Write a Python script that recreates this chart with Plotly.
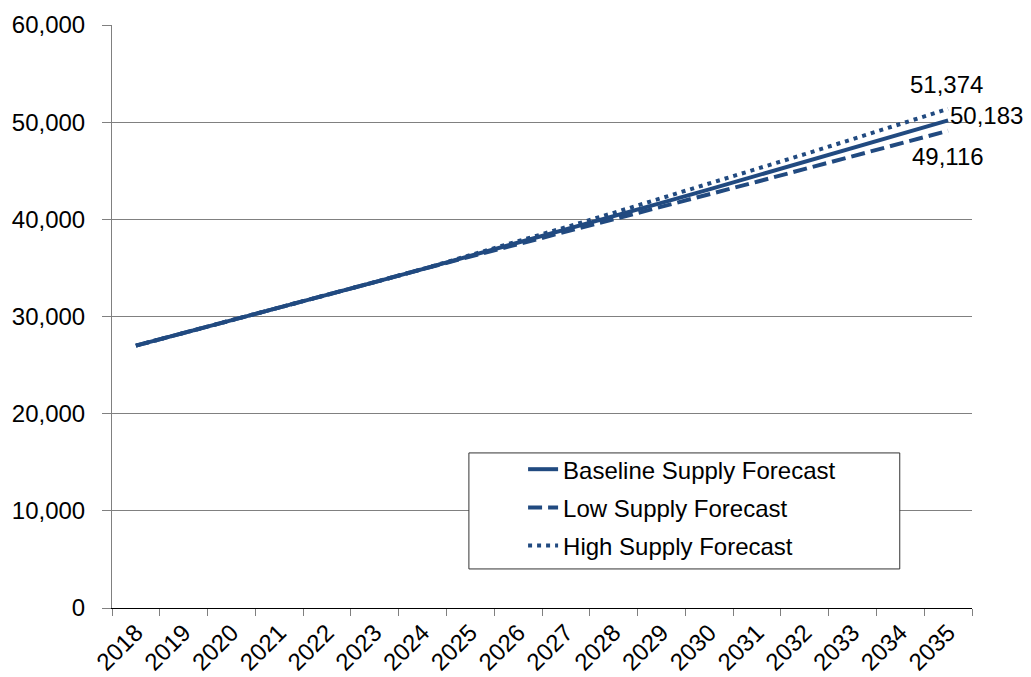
import plotly.graph_objects as go

years = [str(y) for y in range(2018, 2036)]
baseline = [27000, 28290, 29590, 30900, 32220, 33540, 34880, 36230, 37580, 38940,
            40320, 41700, 43090, 44490, 45900, 47320, 48750, 50183]
low = [27000, 28290, 29590, 30900, 32220, 33540, 34880, 36180, 37450, 38720,
       40010, 41290, 42580, 43870, 45170, 46480, 47800, 49116]
high = [27000, 28290, 29590, 30900, 32220, 33540, 34880, 36290, 37730, 39190,
        40670, 42160, 43660, 45180, 46710, 48250, 49810, 51374]
y_ticks = [0, 10000, 20000, 30000, 40000, 50000, 60000]

COLOR = "#214A80"
FONT = "Liberation Sans, Arial, sans-serif"
FS = 24
last = len(years) - 1

fig = go.Figure()
fig.add_trace(go.Scatter(
    x=years, y=baseline, mode="lines", name="Baseline Supply Forecast",
    line=dict(color=COLOR, width=4, dash="solid"), legendgroup="a"))
fig.add_trace(go.Scatter(
    x=years, y=low, mode="lines", name="Low Supply Forecast",
    line=dict(color=COLOR, width=4, dash="14px,6px"), legendgroup="b"))
fig.add_trace(go.Scatter(
    x=years, y=high, mode="lines", name="High Supply Forecast",
    line=dict(color=COLOR, width=4, dash="4px,5px"), legendgroup="c"))

# end-point value labels
fig.add_annotation(x=last, y=high[-1], text=f"{high[-1]:,}", showarrow=False,
                   xanchor="center", yanchor="middle", yshift=24, xshift=-2,
                   font=dict(size=FS, family=FONT, color="black"))
fig.add_annotation(x=last, y=baseline[-1], text=f"{baseline[-1]:,}", showarrow=False,
                   xanchor="left", yanchor="middle", xshift=0, yshift=5,
                   font=dict(size=FS, family=FONT, color="black"))
fig.add_annotation(x=last, y=low[-1], text=f"{low[-1]:,}", showarrow=False,
                   xanchor="center", yanchor="middle", yshift=-26, xshift=0,
                   font=dict(size=FS, family=FONT, color="black"))

fig.add_shape(type="rect", xref="paper", yref="paper",
              x0=0.415, x1=0.916, y0=0.067, y1=0.266,
              line=dict(color="#333333", width=1), fillcolor="white", layer="above")

fig.update_layout(
    width=1023, height=669,
    margin=dict(l=104, r=59, t=17, b=69, autoexpand=False),
    paper_bgcolor="white", plot_bgcolor="white",
    font=dict(family=FONT, size=FS, color="black"),
    showlegend=True,
    legend=dict(x=0.478, y=0.276, xanchor="left", yanchor="top",
                bgcolor="rgba(0,0,0,0)", borderwidth=0,
                font=dict(size=FS, family=FONT, color="black"),
                tracegroupgap=4, traceorder="grouped"),
)
fig.update_xaxes(
    type="category", tickson="boundaries", ticks="outside", ticklen=7,
    range=[-0.5, len(years) - 0.5], autorange=False,
    tickcolor="#808080", tickangle=-45, showgrid=False, automargin=False,
    showline=True, linecolor="black", linewidth=1,
    tickfont=dict(size=FS, family=FONT, color="black"),
)
fig.update_yaxes(
    range=[0, 60000], tickvals=y_ticks, tickformat=",", automargin=False,
    ticks="outside", ticklen=9, tickcolor="#808080", ticklabelstandoff=12,
    showgrid=True, gridcolor="#808080", gridwidth=1,
    showline=True, linecolor="#808080", linewidth=1,
    zeroline=False,
    tickfont=dict(size=FS, family=FONT, color="black"),
)

fig.write_html("out.html")
